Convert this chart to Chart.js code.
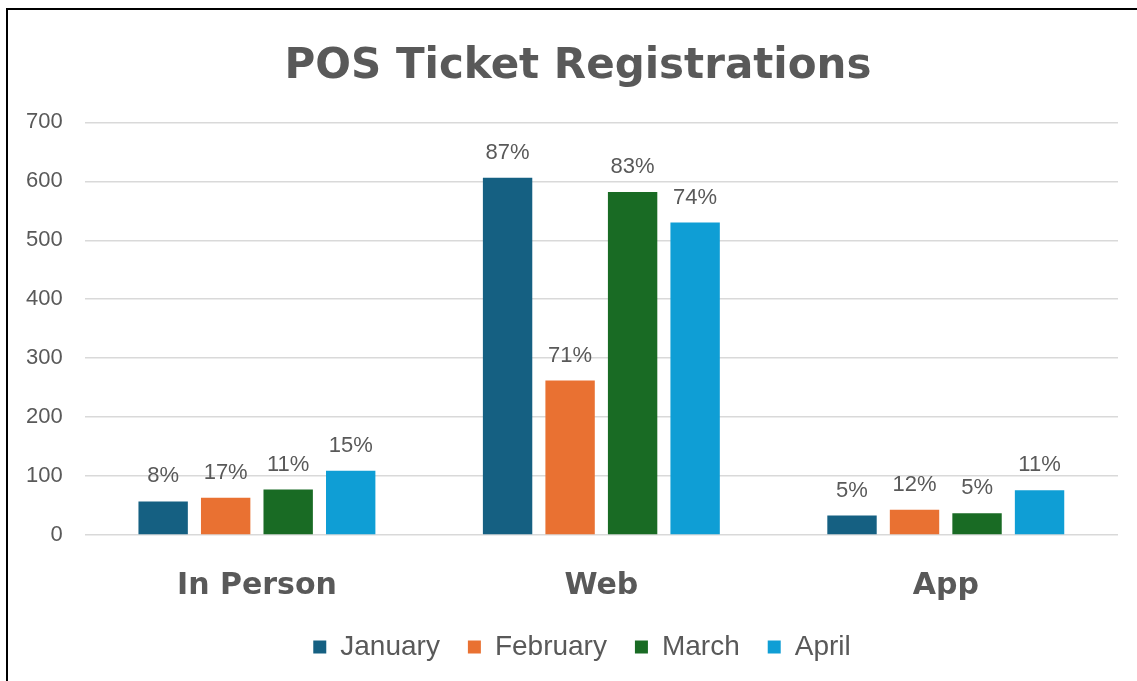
<!DOCTYPE html>
<html>
<head>
<meta charset="utf-8">
<script src="https://cdn.jsdelivr.net/npm/chart.js@4"></script>
<style>
  html, body { margin: 0; padding: 0; background: #fff; }
  #wrap { position: relative; width: 1137px; height: 681px; overflow: hidden; }
  #frame { position: absolute; left: 6px; top: 8px; width: 1200px; height: 700px;
           border-left: 2px solid #000; border-top: 2px solid #000; }
  canvas { position: absolute; left: 0; top: 0; }
</style>
</head>
<body>
<div id="wrap">
  <div id="frame"></div>
  <canvas id="chart" width="1137" height="681"></canvas>
</div>
<script>
// data
var channels = ['In Person', 'Web', 'App'];
var months = ['January', 'February', 'March', 'April'];
var january = [57, 606, 33];
var february = [63, 262, 43];
var march = [77, 582, 37];
var april = [109, 530, 76];
var janPct = ['8%', '87%', '5%'];
var febPct = ['17%', '71%', '12%'];
var marPct = ['11%', '83%', '5%'];
var aprPct = ['15%', '74%', '11%'];
var yTicks = [0, 100, 200, 300, 400, 500, 600, 700];

var colors = ['#156082', '#E97132', '#196B24', '#0F9ED5'];
var values = [january, february, march, april];
var pcts = [janPct, febPct, marPct, aprPct];
var grey = '#595959';

// percent labels above each bar
var pctLabels = {
  id: 'pctLabels',
  afterLayout: function(chart) {
    // title and legend sit a little right of the plot centre in the original
    chart.titleBlock.left += 17;
    chart.titleBlock.right += 17;
    chart.legend.left += 21;
    chart.legend.right += 21;
  },
  afterDatasetsDraw: function(chart) {
    var ctx = chart.ctx;
    ctx.save();
    ctx.font = '22px "Liberation Sans", Arial, sans-serif';
    ctx.fillStyle = grey;
    ctx.textAlign = 'center';
    ctx.textBaseline = 'middle';
    chart.data.datasets.forEach(function(ds, i) {
      var meta = chart.getDatasetMeta(i);
      meta.data.forEach(function(bar, j) {
        ctx.fillText(pcts[i][j], bar.x, bar.y - 25);
      });
    });
    ctx.restore();
  }
};

var datasets = months.map(function(m, i) {
  return {
    label: m,
    data: values[i],
    backgroundColor: colors[i],
    borderWidth: 0,
    categoryPercentage: 0.726,
    barPercentage: 0.79
  };
});

new Chart(document.getElementById('chart'), {
  type: 'bar',
  data: { labels: channels, datasets: datasets },
  plugins: [pctLabels],
  options: {
    responsive: false,
    animation: false,
    layout: { padding: { left: 4, right: 19, top: 42, bottom: 10 } },
    plugins: {
      tooltip: { enabled: false },
      title: {
        display: true,
        text: 'POS Ticket Registrations',
        color: grey,
        font: { family: '"DejaVu Sans", sans-serif', size: 42, weight: 'bold' },
        padding: { top: 0, bottom: 30 }
      },
      legend: {
        position: 'bottom',
        labels: {
          color: grey,
          font: { family: '"Liberation Sans", Arial, sans-serif', size: 28 },
          boxWidth: 13,
          boxHeight: 13,
          padding: 28
        }
      }
    },
    scales: {
      x: {
        grid: { display: false },
        border: { display: false },
        afterFit: function(axis) { axis.height -= 24; },
        ticks: {
          color: grey,
          padding: 25,
          font: { family: '"DejaVu Sans", sans-serif', size: 30, weight: 'bold' }
        }
      },
      y: {
        min: 0,
        max: 700,
        afterBuildTicks: function(axis) {
          axis.ticks = yTicks.map(function(v) { return { value: v }; });
        },
        grid: { color: '#d9d9d9', lineWidth: 1.5, drawTicks: false },
        border: { display: false },
        ticks: {
          color: grey,
          padding: 22,
          font: { family: '"Liberation Sans", Arial, sans-serif', size: 22 }
        }
      }
    }
  }
});
</script>
</body>
</html>
